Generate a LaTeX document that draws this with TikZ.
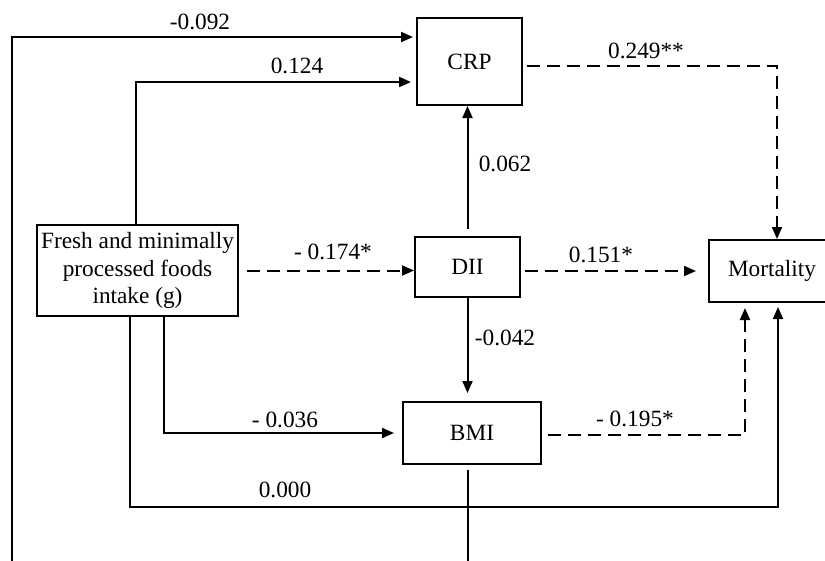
\documentclass[tikz,border=0pt]{standalone}
\usepackage{fontspec}
\setmainfont{Liberation Serif}
\usetikzlibrary{arrows.meta}
\begin{document}
\begin{tikzpicture}[x=1pt,y=-1pt,
  box/.style={draw,line width=2pt,inner sep=0pt,align=center,font=\fontsize{23.3}{27.5}\selectfont},
  conn/.style={line width=2pt},
  arr/.style={conn,-{Triangle[length=12pt,width=10pt]}},
  dsh/.style={dash pattern=on 13pt off 7pt},
  lab/.style={anchor=base,inner sep=0pt,font=\fontsize{23.3}{27.5}\selectfont}]
\useasboundingbox (0,0) rectangle (825,560);
% nodes
\node[box,minimum width=201pt,minimum height=91pt] (fresh) at (137.5,270.5) {Fresh and minimally\\processed foods\\intake (g)};
\node[box,minimum width=105pt,minimum height=87pt] (crp) at (469.5,61.5) {CRP};
\node[box,minimum width=105pt,minimum height=60pt] (dii) at (467.5,267) {DII};
\node[box,minimum width=138pt,minimum height=62pt] (bmi) at (472,433) {BMI};
\node[box,minimum width=126pt,minimum height=62pt] (mort) at (772,271) {Mortality};
\coordinate (bl) at (12,562);
\coordinate (bb) at (468,562);
% connectors
\draw[arr,shorten >=3pt] (bl) |- ([yshift=24.5pt]crp.west);
\draw[arr,shorten >=5pt] ([xshift=-1.5pt]fresh.north) |- ([yshift=-20.5pt]crp.west);
\draw[arr,shorten <=7pt] (dii.north) -- (dii.north |- crp.south);
\draw[arr,dsh,shorten <=4pt] ([yshift=-4.5pt]crp.east) -| ([xshift=5pt]mort.north);
\draw[arr,dsh,shorten <=8pt] (fresh.east) -- (dii.west |- fresh.east);
\draw[arr,dsh,shorten <=4pt,shorten >=12pt] (dii.east |- mort.west) -- (mort.west);
\draw[arr,shorten >=8pt] (dii.south) -- (dii.south |- bmi.north);
\draw[arr,shorten >=8pt] ([xshift=26.5pt]fresh.south) |- (bmi.west);
\draw[arr,shorten >=4pt] ([xshift=-7.5pt]fresh.south) |- (640,507) -| ([xshift=6pt]mort.south);
\draw[arr,dsh,shorten <=6pt,shorten >=5pt] ([yshift=-2pt]bmi.east) -| ([xshift=-27pt]mort.south);
\draw[conn,shorten <=5pt] (bb |- bmi.south) -- (bb);
% labels
\node[lab] at (200,29) {-0.092};
\node[lab] at (297,73) {0.124};
\node[lab] at (646,58) {0.249**};
\node[lab] at (505,171) {0.062};
\node[lab] at (333,259) {- 0.174*};
\node[lab] at (601,262) {0.151*};
\node[lab] at (505,345) {-0.042};
\node[lab] at (285,427) {- 0.036};
\node[lab] at (285,497) {0.000};
\node[lab] at (635,426) {- 0.195*};
\end{tikzpicture}
\end{document}
